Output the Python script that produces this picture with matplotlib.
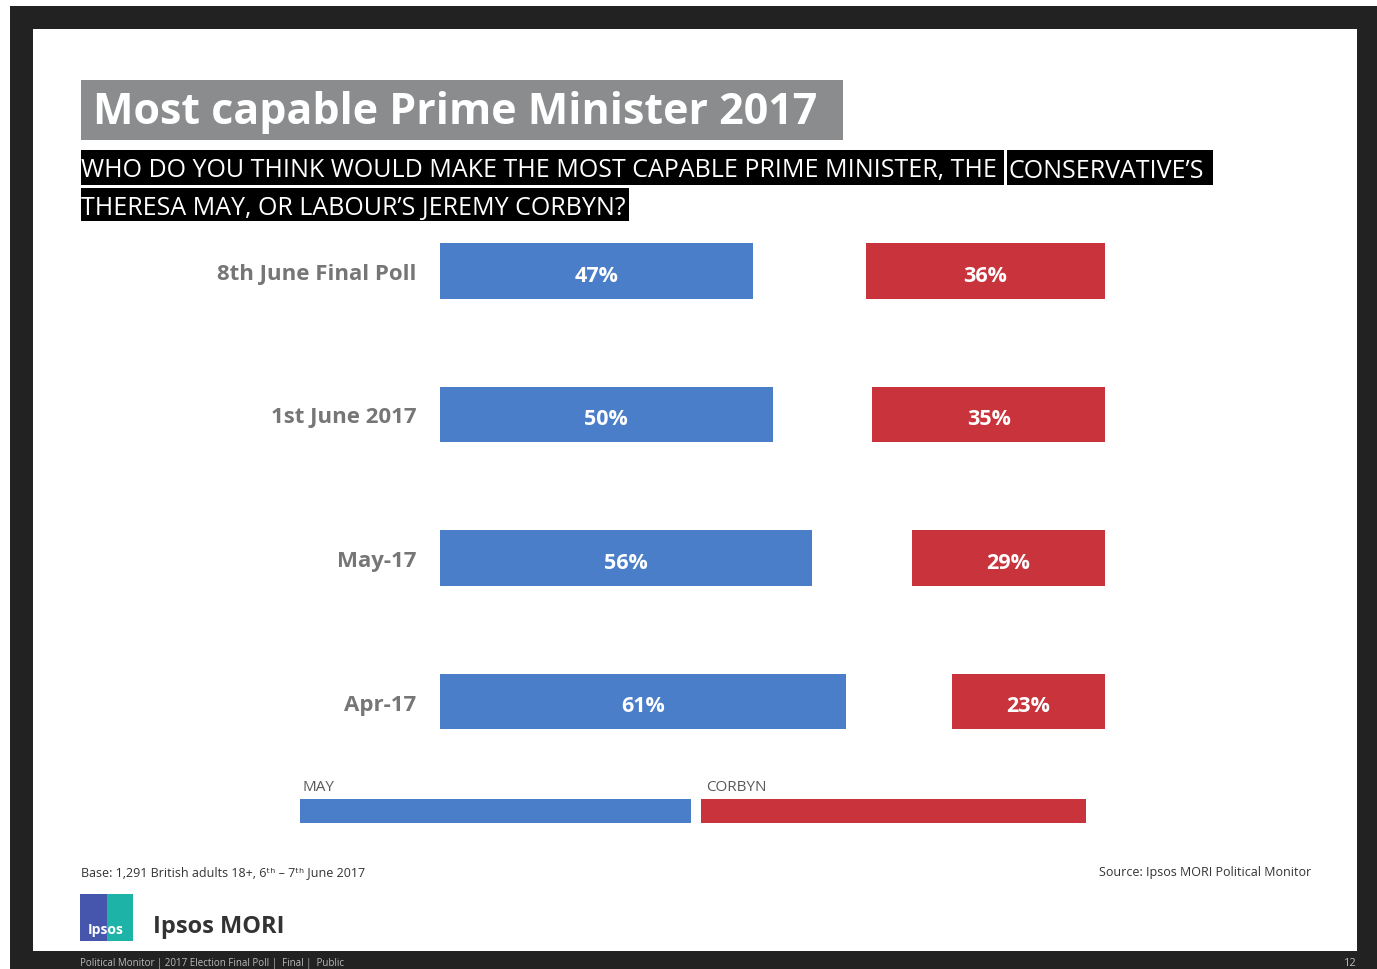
import matplotlib as mpl
import numpy as np

mpl.use('Agg')
from matplotlib import pyplot as plt
from matplotlib.patches import Rectangle

W, H = 1377, 970

categories = ['8th June Final Poll', '1st June 2017', 'May-17', 'Apr-17']
may_values = [47, 50, 56, 61]
corbyn_values = [36, 35, 29, 23]
series_names = ['MAY', 'CORBYN']

BLUE = '#4a7ec9'
RED = '#c9343c'
DARK = '#222222'
LABEL_GREY = '#767676'

plt.rcParams['font.family'] = ['Open Sans', 'DejaVu Sans']


def fx(px):
    return px / W


def fy(py):
    return 1 - py / H


def box(fig, x0, y0, x1, y1, color, zorder=1):
    fig.patches.append(Rectangle((fx(x0), fy(y1)), fx(x1) - fx(x0), fy(y0) - fy(y1),
                                 transform=fig.transFigure, facecolor=color,
                                 edgecolor='none', zorder=zorder))


fig = plt.figure(figsize=(W / 100, H / 100), dpi=100)
fig.patch.set_facecolor('white')

# slide frame
box(fig, 10, 7, W, H, DARK, zorder=-2)
box(fig, 33, 30, 1357, 952, 'white', zorder=-1)

# title
box(fig, 81, 81, 843, 141, '#8a8c8e')
fig.text(fx(93), fy(113), 'Most capable Prime Minister 2017', color='white',
         fontsize=31, fontweight='bold', va='center', ha='left')

# question
box(fig, 81, 151, 1004, 186, 'black')
box(fig, 1007, 151, 1213, 186, 'black')
box(fig, 81, 189, 629, 222, 'black')
fig.text(fx(81), fy(171), 'WHO DO YOU THINK WOULD MAKE THE MOST CAPABLE PRIME MINISTER, THE',
         color='white', fontsize=18, va='center', ha='left')
fig.text(fx(1009), fy(171), 'CONSERVATIVE\u2019S', color='white', fontsize=18,
         va='center', ha='left')
fig.text(fx(81), fy(208), 'THERESA MAY, OR LABOUR\u2019S JEREMY CORBYN?', color='white',
         fontsize=18, va='center', ha='left')

# bars
row_px = 143.5
ax = fig.add_axes([fx(440), fy(702.5 + row_px / 2), fx(1105) - fx(440), 4 * row_px / H])
y = np.arange(len(categories))
ax.barh(y, may_values, height=0.39, color=BLUE)
ax.barh(y, corbyn_values, left=[100 - v for v in corbyn_values], height=0.39, color=RED)
for i in range(len(categories)):
    ax.text(may_values[i] / 2, i + 0.03, '%d%%' % may_values[i], color='white',
            fontsize=15.5, fontweight='bold', ha='center', va='center')
    ax.text(100 - corbyn_values[i] / 2, i + 0.03, '%d%%' % corbyn_values[i], color='white',
            fontsize=15.5, fontweight='bold', ha='center', va='center')
ax.set_xlim(0, 100)
ax.set_ylim(len(categories) - 0.5, -0.5)
ax.set_yticks(y)
ax.set_yticklabels(categories, fontsize=16, fontweight='bold', color=LABEL_GREY)
ax.tick_params(axis='y', length=0, pad=17)
ax.set_xticks([])
for s in ax.spines.values():
    s.set_visible(False)
ax.patch.set_alpha(0)

# legend
box(fig, 300, 800, 691, 824, BLUE)
box(fig, 701, 800, 1086, 824, RED)
fig.text(fx(302), fy(788), series_names[0], color='#595959', fontsize=11, va='center')
fig.text(fx(706), fy(788), series_names[1], color='#595959', fontsize=11, va='center')

# notes
fig.text(fx(81), fy(873), 'Base: 1,291 British adults 18+, 6\u1d57\u02b0 \u2013 7\u1d57\u02b0 June 2017',
         color='#333333', fontsize=9, va='center')
fig.text(fx(1311), fy(873), 'Source: Ipsos MORI Political Monitor', color='#333333',
         fontsize=9, va='center', ha='right')

# logo
box(fig, 80, 895, 107, 942, '#4656ad')
box(fig, 107, 895, 133, 942, '#1db3a6')
fig.text(fx(106), fy(930), 'Ipsos', color='white', fontsize=10, fontweight='bold',
         ha='center', va='center')
fig.text(fx(153), fy(927), 'Ipsos MORI', color='#333333', fontsize=17, fontweight='bold',
         va='center')

# footer strip
fig.text(fx(80), fy(964), 'Political Monitor | 2017 Election Final Poll |  Final |  Public',
         color='#bbbbbb', fontsize=7, va='center')
fig.text(fx(1356), fy(964), '12', color='#bbbbbb', fontsize=8, va='center', ha='right')

plt.savefig('out.png', dpi=100)
